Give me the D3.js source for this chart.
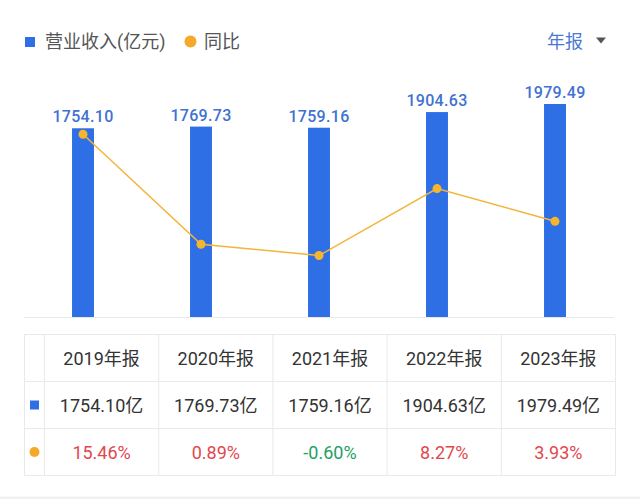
<!DOCTYPE html>
<html>
<head>
<meta charset="utf-8">
<script src="https://cdn.jsdelivr.net/npm/d3@7"></script>
<style>
  html, body { margin: 0; padding: 0; background: #ffffff; }
  svg { display: block; }
  text { font-family: Roboto, "Noto Sans CJK SC", sans-serif; }
</style>
</head>
<body>
<svg id="chart" width="640" height="499"></svg>
<script>
const categories = ["2019年报", "2020年报", "2021年报", "2022年报", "2023年报"];
const revenue = [1754.10, 1769.73, 1759.16, 1904.63, 1979.49];
const revenueLabels = ["1754.10", "1769.73", "1759.16", "1904.63", "1979.49"];
const yoy = [15.46, 0.89, -0.60, 8.27, 3.93];
const yoyLabels = ["15.46%", "0.89%", "-0.60%", "8.27%", "3.93%"];
const seriesNames = ["营业收入(亿元)", "同比"];
const periodLabel = "年报";
const unitSuffix = "亿";

const BLUE = "#2f6fe6";
const LABEL_BLUE = "#3f72d2";
const ORANGE = "#f5a82a";
const LINE = "#f3b53a";
const RED = "#e2474d";
const GREEN = "#1f9f63";
const GRID = "#e9e9e9";

const svg = d3.select("#chart");

// background bottom strip
svg.append("rect").attr("x", 0).attr("y", 496.5).attr("width", 640).attr("height", 3).attr("fill", "#f1f1f1");

// ---- Legend ----
const legend = svg.append("g");
legend.append("rect").attr("x", 25).attr("y", 37).attr("width", 10).attr("height", 10).attr("fill", BLUE);
legend.append("text").attr("x", 45).attr("y", 48).attr("font-size", 18).attr("fill", "#555")
  .attr("font-family", "'Noto Sans CJK SC', sans-serif").text(seriesNames[0]);
legend.append("circle").attr("cx", 190.5).attr("cy", 41.5).attr("r", 6).attr("fill", ORANGE);
legend.append("text").attr("x", 204).attr("y", 48).attr("font-size", 18).attr("fill", "#555")
  .attr("font-family", "'Noto Sans CJK SC', sans-serif").text(seriesNames[1]);

// period selector
svg.append("text").attr("x", 547).attr("y", 48).attr("font-size", 18).attr("fill", "#4a78d2")
  .attr("font-family", "'Noto Sans CJK SC', sans-serif").text(periodLabel);
svg.append("path").attr("d", "M596,37.5 L606,37.5 L601,43.5 Z").attr("fill", "#555");

// ---- Chart ----
const x = d3.scaleBand().domain(categories).range([24, 614]).paddingInner(0.814).paddingOuter(0.407);
const y = d3.scaleLinear().domain([0, 2000]).range([317, 101.8]);
const y2 = d3.scaleLinear().domain([-4, 20]).range([281.2, 100]);

// baseline grid
svg.append("line").attr("x1", 24).attr("x2", 614).attr("y1", 317.5).attr("y2", 317.5)
  .attr("stroke", GRID).attr("stroke-width", 1);

svg.append("g").selectAll("rect").data(categories).join("rect")
  .attr("x", d => x(d))
  .attr("y", (d, i) => y(revenue[i]))
  .attr("width", x.bandwidth())
  .attr("height", (d, i) => y(0) - y(revenue[i]))
  .attr("fill", BLUE);

svg.append("g").selectAll("text").data(categories).join("text")
  .attr("x", d => x(d) + x.bandwidth() / 2)
  .attr("y", (d, i) => y(revenue[i]) - 6)
  .attr("text-anchor", "middle")
  .attr("font-size", 16)
  .attr("font-weight", 500)
  .attr("letter-spacing", 0.3)
  .attr("fill", LABEL_BLUE)
  .text((d, i) => revenueLabels[i]);

const line = d3.line()
  .x((d, i) => x(categories[i]) + x.bandwidth() / 2)
  .y(d => y2(d));
svg.append("path").datum(yoy).attr("d", line).attr("fill", "none")
  .attr("stroke", LINE).attr("stroke-width", 1.5);
svg.append("g").selectAll("circle").data(yoy).join("circle")
  .attr("cx", (d, i) => x(categories[i]) + x.bandwidth() / 2)
  .attr("cy", d => y2(d))
  .attr("r", 4.5)
  .attr("fill", "#f7b52c");

// ---- Table ----
const tx = d3.scaleBand().domain(categories).range([44.5, 615.5]);
const rowY = [334.5, 381.5, 428.5, 475.5];
const tbl = svg.append("g");
// horizontal lines
tbl.selectAll("line.h").data(rowY).join("line").attr("class", "h")
  .attr("x1", 24.5).attr("x2", 615.5).attr("y1", d => d).attr("y2", d => d)
  .attr("stroke", GRID).attr("stroke-width", 1);
// vertical lines
const vx = [24.5].concat(categories.map(c => tx(c))).concat([615.5]);
tbl.selectAll("line.v").data(vx).join("line").attr("class", "v")
  .attr("x1", d => d).attr("x2", d => d).attr("y1", rowY[0]).attr("y2", rowY[3])
  .attr("stroke", GRID).attr("stroke-width", 1);

const rowMid = [0, 1, 2].map(i => (rowY[i] + rowY[i + 1]) / 2);

tbl.append("g").selectAll("text").data(categories).join("text")
  .attr("x", d => tx(d) + tx.bandwidth() / 2)
  .attr("y", rowMid[0] + 6.5)
  .attr("text-anchor", "middle").attr("font-size", 18).attr("fill", "#333")
  .text(d => d);

tbl.append("g").selectAll("text").data(categories).join("text")
  .attr("x", d => tx(d) + tx.bandwidth() / 2)
  .attr("y", rowMid[1] + 6.5)
  .attr("text-anchor", "middle").attr("font-size", 18).attr("fill", "#333")
  .text((d, i) => revenueLabels[i] + unitSuffix);

tbl.append("g").selectAll("text").data(categories).join("text")
  .attr("x", d => tx(d) + tx.bandwidth() / 2)
  .attr("y", rowMid[2] + 6.5)
  .attr("text-anchor", "middle").attr("font-size", 18)
  .attr("fill", (d, i) => yoy[i] < 0 ? GREEN : RED)
  .text((d, i) => yoyLabels[i]);

tbl.append("rect").attr("x", 30).attr("y", rowMid[1] - 4.5).attr("width", 9).attr("height", 9).attr("fill", BLUE);
tbl.append("circle").attr("cx", 34.5).attr("cy", rowMid[2]).attr("r", 5).attr("fill", ORANGE);
</script>
</body>
</html>
